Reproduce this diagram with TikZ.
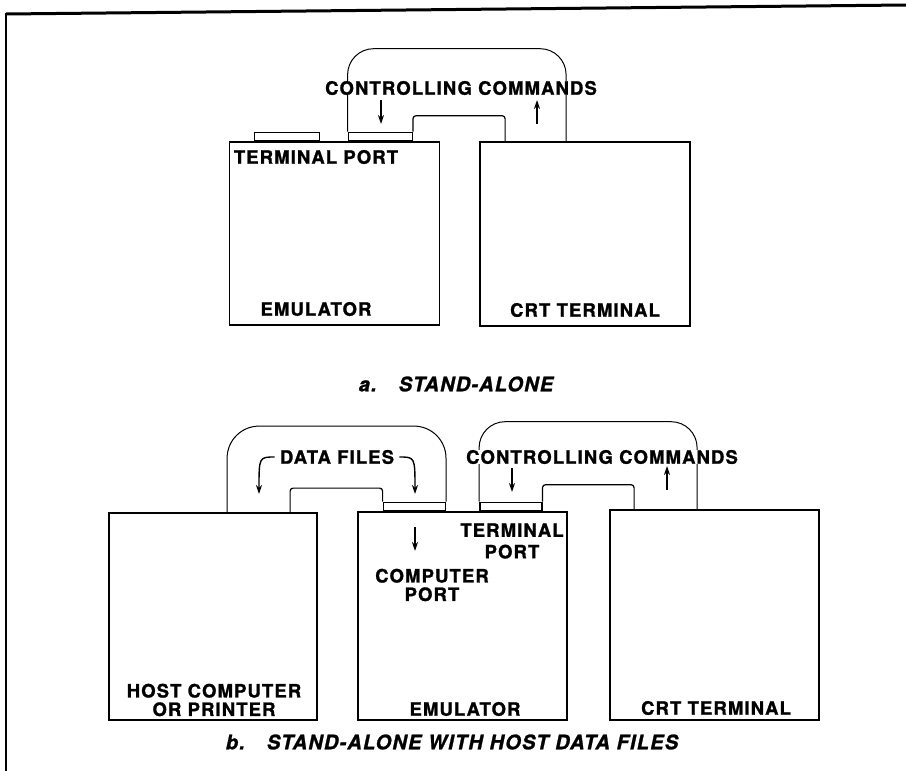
\documentclass[tikz,border=0pt]{standalone}
\usepackage{fontspec}
\setmainfont{TeX Gyre Heros}[LetterSpace=6, BoldFeatures={FakeBold=1.2}, BoldItalicFeatures={FakeBold=1.2}]
\usetikzlibrary{arrows.meta}
\begin{document}
\begin{tikzpicture}[x=1pt,y=-1pt,
  every node/.style={font=\fontsize{18.5}{18.5}\selectfont\bfseries, inner sep=0pt},
  unit/.style={draw, line width=1.8pt, minimum width=210pt},
  portbox/.style={draw, line width=1.4pt, minimum height=8pt, anchor=south west},
  cable/.style={line width=1.2pt, rounded corners=3pt},
  cmdloop/.style={line width=1pt, rounded corners=26pt},
  sig/.style={line width=1.4pt, -{Stealth[length=9pt,width=6pt]}},
  caption/.style={font=\fontsize{20}{20}\selectfont\bfseries\itshape}]
\useasboundingbox (0,0) rectangle (906,771);
\draw[line width=3pt] (6,14) -- (906,5);
\draw[line width=2pt] (6,12.5) -- (6,771);
\node[unit, minimum height=183pt] (emu1) at (334.5,233.5) {};
\node[unit, minimum height=184pt] (crt1) at (585,234) {};
\node[portbox, minimum width=65pt] (pa1) at ([xshift=25pt]emu1.north west) {};
\node[portbox, minimum width=64pt] (pb1) at ([xshift=119pt]emu1.north west) {};
\draw[cable] (pb1.north east) -- ++(0,-16) -| ([xshift=26pt]crt1.north west);
\draw[cmdloop] (pb1.north west) -- ++(0,-83) -| ([xshift=87pt]crt1.north west);
\node[fill=white, inner xsep=1pt] (cmd1) at (461,88) {CONTROLLING COMMANDS};
\coordinate (d1a) at (381,100); \coordinate (d1b) at (381,124);
\coordinate (u1a) at (537,124); \coordinate (u1b) at (537,100);
\draw[sig] (d1a) -- (d1b);
\draw[sig] (u1a) -- (u1b);
\node (lbltp1) at (316,157) {TERMINAL PORT};
\node (lblemu1) at (316,309) {EMULATOR};
\node (lblcrt1) at (585,310) {CRT TERMINAL};
\node[caption] (capa) at (456,384) {a.\hspace{22pt}STAND-ALONE};
\node[unit, minimum width=208pt, minimum height=207pt] (host) at (213,616.5) {};
\node[unit, minimum width=209pt, minimum height=208pt] (emu2) at (462.5,616) {};
\node[unit, minimum width=209pt, minimum height=210pt] (crt2) at (714.5,615) {};
\node[portbox, minimum width=62pt] (pc2) at ([xshift=25.5pt]emu2.north west) {};
\node[portbox, minimum width=62pt] (pt2) at ([xshift=122pt]emu2.north west) {};
\draw[cable] ([xshift=182pt]host.north west) -- ++(0,-24) -| (pc2.north west);
\draw[cmdloop, rounded corners=32pt] ([xshift=119pt]host.north west) -- ++(0,-86) -| (pc2.north east);
\draw[cable] (pt2.north east) -- ++(0,-17) -| ([xshift=25pt]crt2.north west);
\draw[cmdloop] (pt2.north west) -- ++(0,-80) -| ([xshift=88pt]crt2.north west);
\node[fill=white] (cmd2) at (602,457) {CONTROLLING COMMANDS};
\node[fill=white, inner xsep=5pt] (files) at (337,457) {DATA FILES};
\coordinate (fl) at (259,494); \coordinate (fr) at (415,494);
\draw[sig] (files.west) .. controls (259,457) .. (fl);
\draw[sig] (files.east) .. controls (415,457) .. (fr);
\coordinate (c2a) at (415,527); \coordinate (c2b) at (415,551);
\coordinate (d2a) at (512,468); \coordinate (d2b) at (512,492);
\coordinate (u2a) at (667,490); \coordinate (u2b) at (667,466);
\draw[sig] (c2a) -- (c2b);
\draw[sig] (d2a) -- (d2b);
\draw[sig] (u2a) -- (u2b);
\node[align=center] (lblcp) at (432,585) {COMPUTER\\PORT};
\node[align=center] (lbltp2) at (512,541) {TERMINAL\\[3pt]PORT};
\node[align=center] (lblhost) at (214,700) {HOST COMPUTER\\OR PRINTER};
\node (lblemu2) at (465,709) {EMULATOR};
\node (lblcrt2) at (716,708) {CRT TERMINAL};
\node[caption] (capb) at (452,742) {b.\hspace{22pt}STAND-ALONE WITH HOST DATA FILES};
\end{tikzpicture}
\end{document}
